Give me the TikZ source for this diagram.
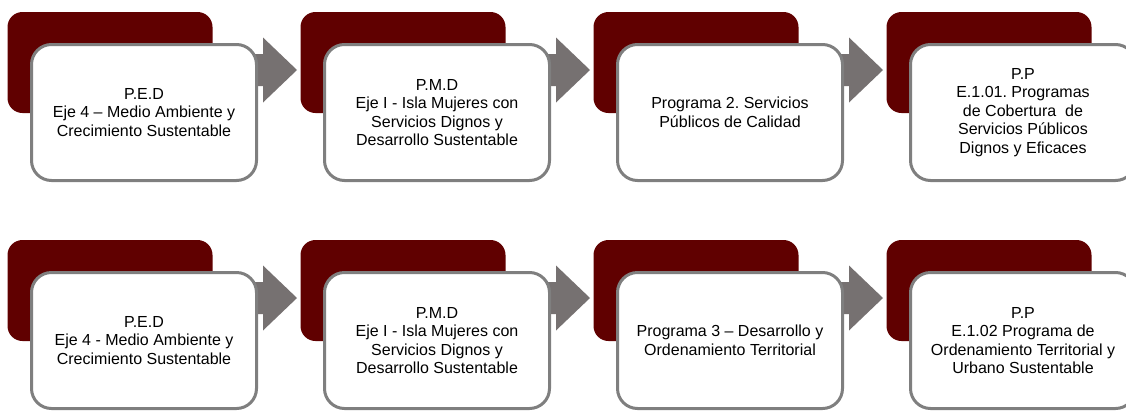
\documentclass[tikz,border=0pt]{standalone}
\usepackage{fontspec}
\setmainfont{Liberation Sans}
\definecolor{vino}{RGB}{96,0,0}
\definecolor{gris}{RGB}{118,113,113}
\definecolor{borde}{RGB}{127,127,127}
\tikzset{
	fondo/.style={rectangle, rounded corners=15pt, fill=vino, minimum width=205pt, minimum height=101pt},
	caja/.style={rectangle, rounded corners=20pt, draw=borde, line width=3pt, fill=white, minimum width=225pt, minimum height=136pt, align=center, font=\fontsize{16}{18.5}\selectfont\frenchspacing}
}
\begin{document}
\begin{tikzpicture}[x=1pt,y=-1pt]
	\useasboundingbox (0,0) rectangle (1126,410);
	% fondos
	\node (D1) at (110, 62.5)	[fondo]	{};
	\node (D2) at (403, 62.5)	[fondo]	{};
	\node (D3) at (696, 62.5)	[fondo]	{};
	\node (D4) at (989, 62.5)	[fondo]	{};
	\node (D5) at (110, 290.5)	[fondo]	{};
	\node (D6) at (403, 290.5)	[fondo]	{};
	\node (D7) at (696, 290.5)	[fondo]	{};
	\node (D8) at (989, 290.5)	[fondo]	{};
	% puntas de flecha
	\coordinate (T1) at (297, 70);
	\coordinate (T2) at (590, 70);
	\coordinate (T3) at (883, 70);
	\coordinate (T4) at (297, 298);
	\coordinate (T5) at (590, 298);
	\coordinate (T6) at (883, 298);
	\fill[gris] (T1) -- ++(-34,-32.5) -- ++(0,16.5) -- ++(-23,0) -- ++(0,32) -- ++(23,0) -- ++(0,16.5) -- cycle;
	\fill[gris] (T2) -- ++(-34,-32.5) -- ++(0,16.5) -- ++(-23,0) -- ++(0,32) -- ++(23,0) -- ++(0,16.5) -- cycle;
	\fill[gris] (T3) -- ++(-34,-32.5) -- ++(0,16.5) -- ++(-23,0) -- ++(0,32) -- ++(23,0) -- ++(0,16.5) -- cycle;
	\fill[gris] (T4) -- ++(-34,-32.5) -- ++(0,16.5) -- ++(-23,0) -- ++(0,32) -- ++(23,0) -- ++(0,16.5) -- cycle;
	\fill[gris] (T5) -- ++(-34,-32.5) -- ++(0,16.5) -- ++(-23,0) -- ++(0,32) -- ++(23,0) -- ++(0,16.5) -- cycle;
	\fill[gris] (T6) -- ++(-34,-32.5) -- ++(0,16.5) -- ++(-23,0) -- ++(0,32) -- ++(23,0) -- ++(0,16.5) -- cycle;
	% cajas
	\node (W1) at (144, 112.5)	[caja]	{P.E.D\\Eje 4 – Medio Ambiente y\\Crecimiento Sustentable};
	\node (W2) at (437, 112.5)	[caja]	{P.M.D\\Eje I - Isla Mujeres con\\Servicios Dignos y\\Desarrollo Sustentable};
	\node (W3) at (730, 112.5)	[caja]	{Programa 2. Servicios\\Públicos de Calidad};
	\node (W4) at (1023, 112.5)	[caja]	{P.P\\E.1.01. Programas\\de Cobertura\ \ de\\Servicios Públicos\\Dignos y Eficaces};
	\node (W5) at (144, 340.5)	[caja]	{P.E.D\\Eje 4 - Medio Ambiente y\\Crecimiento Sustentable};
	\node (W6) at (437, 340.5)	[caja]	{P.M.D\\Eje I - Isla Mujeres con\\Servicios Dignos y\\Desarrollo Sustentable};
	\node (W7) at (730, 340.5)	[caja]	{Programa 3 – Desarrollo y\\Ordenamiento Territorial};
	\node (W8) at (1023, 340.5)	[caja]	{P.P\\E.1.02 Programa de\\Ordenamiento Territorial y\\Urbano Sustentable};
\end{tikzpicture}
\end{document}
